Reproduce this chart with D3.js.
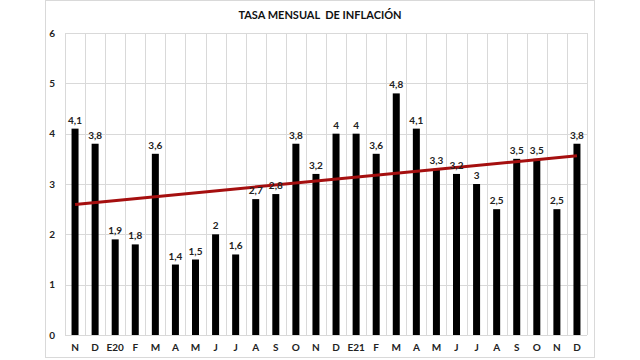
<!DOCTYPE html>
<html><head><meta charset="utf-8">
<script src="https://cdn.jsdelivr.net/npm/d3@7"></script>
<style>body{margin:0;background:#fff}svg{display:block}</style>
</head><body>
<svg id="c" width="640" height="360"></svg>
<script>
const categories = ["N","D","E20","F","M","A","M","J","J","A","S","O","N","D","E21","F","M","A","M","J","J","A","S","O","N","D"];
const values = [4.1,3.8,1.9,1.8,3.6,1.4,1.5,2,1.6,2.7,2.8,3.8,3.2,4,4,3.6,4.8,4.1,3.3,3.2,3,2.5,3.5,3.5,2.5,3.8];
const valueLabels = ["4,1","3,8","1,9","1,8","3,6","1,4","1,5","2","1,6","2,7","2,8","3,8","3,2","4","4","3,6","4,8","4,1","3,3","3,2","3","2,5","3,5","3,5","2,5","3,8"];
const yTicks = [0,1,2,3,4,5,6];
const title = "TASA MENSUAL  DE INFLACIÓN";

const svg = d3.select("#c");
const font = "Lato, 'Open Sans', sans-serif";
const L = 65, R = 587, T = 33, B = 335;

svg.append("rect").attr("x",45.5).attr("y",0.5).attr("width",549).attr("height",357)
  .attr("fill","#fff").attr("stroke","#d9d9d9");

const idx = categories.map((d,i)=>i);
const x = d3.scaleBand().domain(idx).range([L,R]).padding(0);
const y = d3.scaleLinear().domain([0,6]).range([B,T]);

const g = svg.append("g");
g.selectAll(".hg").data(yTicks).join("line")
  .attr("x1",L).attr("x2",R).attr("y1",d=>Math.round(y(d))+0.5).attr("y2",d=>Math.round(y(d))+0.5)
  .attr("stroke","#d9d9d9").attr("stroke-width",1);
const bounds = idx.map(i=>x(i)).concat([R]);
g.selectAll(".vg").data(bounds).join("line")
  .attr("x1",d=>Math.round(d)+0.5).attr("x2",d=>Math.round(d)+0.5).attr("y1",T).attr("y2",B)
  .attr("stroke","#d9d9d9").attr("stroke-width",1);

const bw = 7;
g.selectAll(".bar").data(values).join("rect")
  .attr("x",(d,i)=>x(i)+x.bandwidth()/2-bw/2).attr("width",bw)
  .attr("y",d=>y(d)).attr("height",d=>B-y(d)).attr("fill","#000");

const n = values.length;
const mx = d3.mean(idx), my = d3.mean(values);
const slope = d3.sum(idx,i=>(i-mx)*(values[i]-my))/d3.sum(idx,i=>(i-mx)*(i-mx));
const icpt = my - slope*mx;
svg.append("line")
  .attr("x1",x(0)+x.bandwidth()/2).attr("y1",y(icpt))
  .attr("x2",x(n-1)+x.bandwidth()/2).attr("y2",y(icpt+slope*(n-1)))
  .attr("stroke","#a50f0f").attr("stroke-width",3);

svg.selectAll(".vl").data(values).join("text")
  .attr("x",(d,i)=>x(i)+x.bandwidth()/2).attr("y",d=>y(d)-5)
  .attr("text-anchor","middle").attr("font-family",font).attr("font-weight","bold")
  .attr("font-size",10).attr("fill","#222").text((d,i)=>valueLabels[i]);

const yAxis = d3.axisLeft(y).tickValues(yTicks).tickSize(0).tickPadding(10).tickFormat(d3.format("d"));
const ya = svg.append("g").attr("transform",`translate(${L},0)`).call(yAxis);
ya.select(".domain").remove();
ya.selectAll("text").attr("font-family",font).attr("font-weight","bold").attr("font-size",10).attr("fill","#222");

const xAxis = d3.axisBottom(x).tickSize(0).tickPadding(9).tickFormat(i=>categories[i]);
const xa = svg.append("g").attr("transform",`translate(0,${B})`).call(xAxis);
xa.select(".domain").remove();
xa.selectAll("text").attr("font-family",font).attr("font-weight","bold").attr("font-size",10).attr("fill","#222");

svg.append("text").attr("x",320).attr("y",19).attr("text-anchor","middle")
  .attr("font-family",font).attr("font-weight","bold").attr("font-size",11).attr("fill","#111")
  .attr("xml:space","preserve").style("white-space","pre").text(title);
</script>
</body></html>
